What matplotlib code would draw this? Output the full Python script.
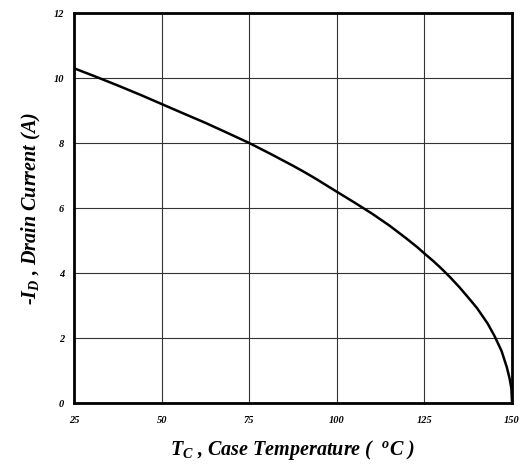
import matplotlib
matplotlib.use("Agg")
import matplotlib.pyplot as plt

# case temperature (C) vs drain current (A)
temp = [25, 31, 37.5, 44, 50, 56, 62.5, 69, 75, 81, 87.5, 91, 94, 97, 100, 105, 110, 115, 120, 123, 125,
        127.5, 130, 132.5, 135, 138, 140, 143, 145, 147, 148.5, 149.3, 149.8, 150]
current = [10.3, 10.05, 9.77, 9.48, 9.2, 8.92, 8.62, 8.3, 8.0, 7.67, 7.3, 7.09, 6.9, 6.7, 6.5, 6.17, 5.83,
           5.46, 5.05, 4.79, 4.6, 4.37, 4.12, 3.85, 3.56, 3.18, 2.92, 2.45, 2.06, 1.6, 1.1, 0.75, 0.45, 0.0]

xticks = [25, 50, 75, 100, 125, 150]
yticks = [0, 2, 4, 6, 8, 10, 12]

plt.rcParams['font.family'] = 'Liberation Serif'
plt.rcParams['font.weight'] = 'bold'
plt.rcParams['font.style'] = 'italic'
plt.rcParams['axes.labelweight'] = 'bold'
plt.rcParams['mathtext.fontset'] = 'custom'
plt.rcParams['mathtext.it'] = 'Liberation Serif:italic:bold'
plt.rcParams['mathtext.rm'] = 'Liberation Serif:italic:bold'

fig = plt.figure(figsize=(5.22, 4.65), dpi=100)
ax = fig.add_axes([0.1418, 0.1333, 0.8392, 0.8387])

ax.plot(temp, current, color='black', lw=1.8)

ax.set_xlim(25, 150)
ax.set_ylim(0, 12)
ax.set_xticks(xticks)
ax.set_yticks(yticks)
ax.grid(True, color='#333333', lw=0.8)
ax.tick_params(length=0, labelsize=7.5)
ax.tick_params(axis='x', pad=9)
ax.tick_params(axis='y', pad=7)
for s in ax.spines.values():
    s.set_linewidth(2)

ax.set_xlabel(r'$T_C$ , Case Temperature (  $^o$C )', fontsize=14.5, fontweight='bold', labelpad=10)
ax.set_ylabel(r'-$I_D$ , Drain Current (A)', fontsize=14.5, fontweight='bold', labelpad=8)

plt.savefig("out.png", dpi=100)
